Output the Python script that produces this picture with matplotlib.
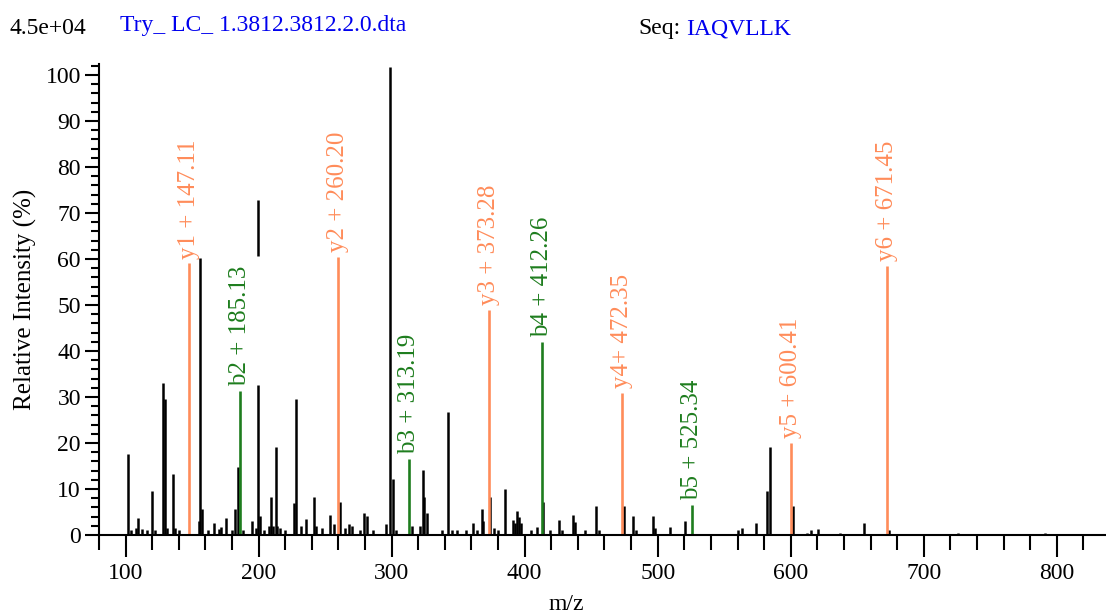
import matplotlib.pyplot as plt
from matplotlib.ticker import MultipleLocator

# unassigned peaks (m/z, relative intensity %)
peak_mz = [101.7, 104, 108, 109.6, 112, 116, 120.1, 122, 128.4, 129.9, 131, 135.7, 137,
           140, 156.2, 157.5, 155, 162, 166.7, 170, 171.8, 175.5, 180, 182.3, 184.3, 188,
           195, 198, 199.5, 200.7, 204, 208, 209.3, 210.5, 212.8, 214, 216, 220, 226.5, 228.1,
           232, 235.6, 241.8, 242.8, 248, 253.9, 257, 261.4, 265, 267.6, 270, 276, 279.4, 281.4,
           286, 295.7, 298.7, 300.7, 303, 315, 321, 323.3, 324.5, 326.3, 338, 342.1, 345,
           349, 356, 360.9, 364, 367.8, 369, 374.1, 377, 380, 385.1, 391.6, 393, 394.6, 396,
           397.5, 405, 409, 413.9, 419, 425.9, 428, 436.7, 438, 445, 453.7, 456, 474.3, 481.7,
           484, 496.8, 498, 509, 520.6, 560, 563, 574, 582.5, 584.4, 601.7, 612, 615, 620.8,
           637, 655, 673.9, 725.7, 790.8]
peak_int = [17.5, 1.0, 1.5, 3.8, 1.2, 1.0, 9.6, 1.0, 33.1, 29.5, 1.5, 13.2, 1.5,
            1.0, 60.2, 5.6, 3.0, 1.0, 2.7, 1.2, 1.7, 3.6, 1.0, 5.7, 14.7, 1.0,
            3.0, 1.5, 32.6, 4.2, 1.0, 2.0, 8.3, 2.0, 19.2, 2.0, 1.5, 1.0, 6.9, 29.5,
            2.0, 3.4, 8.3, 2.0, 1.5, 4.3, 2.4, 7.2, 1.5, 2.3, 2.0, 1.0, 4.7, 4.1,
            1.0, 2.4, 101.8, 12.1, 1.0, 2.0, 2.0, 14.1, 8.3, 4.7, 1.0, 26.7, 1.0,
            1.0, 1.0, 2.7, 1.0, 5.6, 3.0, 8.2, 1.5, 1.0, 10.1, 3.3, 2.5, 5.3, 4.0,
            2.5, 1.0, 1.8, 7.2, 1.0, 3.3, 1.0, 4.3, 2.8, 1.0, 6.2, 1.0, 6.2, 4.1,
            1.0, 4.1, 1.5, 1.8, 3.1, 1.0, 1.5, 2.5, 9.6, 19.2, 6.2, 0.5, 1.0, 1.2,
            0.5, 2.5, 1.0, 0.5, 0.5]

# detached fragment of a peak near 200
frag_mz = [199.3]
frag_lo = [60.6]
frag_hi = [72.8]

# annotated fragment ions
y_ions = ['y1 + 147.11', 'y2 + 260.20', 'y3 + 373.28', 'y4+ 472.35', 'y5 + 600.41', 'y6 + 671.45']
y_mz = [147.9, 259.9, 372.9, 472.8, 600.5, 672.1]
y_int = [59.1, 60.5, 48.9, 30.9, 20.1, 58.5]

b_ions = ['b2 + 185.13', 'b3 + 313.19', 'b4 + 412.26', 'b5 + 525.34']
b_mz = [185.8, 312.8, 412.7, 526.1]
b_int = [31.4, 16.6, 42.0, 6.5]

orange = '#FF8C5A'
green = '#1E7D1E'

plt.rcParams['font.family'] = ['Liberation Serif', 'DejaVu Serif']

fig = plt.figure(figsize=(11.06, 6.15), dpi=100)
ax = fig.add_axes([0.0895, 0.1301, 0.9105, 0.7666])

ax.vlines(peak_mz, 0, peak_int, color='black', linewidth=1.8)
ax.vlines(frag_mz, frag_lo, frag_hi, color='black', linewidth=1.8)
ax.vlines(y_mz, 0, y_int, color=orange, linewidth=1.9)
ax.vlines(b_mz, 0, b_int, color=green, linewidth=1.9)

for lab, mz, h in zip(y_ions, y_mz, y_int):
    ax.text(mz, h + 1.0, lab, rotation=90, ha='center', va='bottom',
            color=orange, fontsize=18, clip_on=False)
for lab, mz, h in zip(b_ions, b_mz, b_int):
    ax.text(mz, h + 1.0, lab, rotation=90, ha='center', va='bottom',
            color=green, fontsize=18, clip_on=False)

ax.set_xlim(80, 837)
ax.set_ylim(0, 102.5)

ax.spines['top'].set_visible(False)
ax.spines['right'].set_visible(False)
ax.spines['left'].set_linewidth(1.5)
ax.spines['bottom'].set_linewidth(1.5)

ax.xaxis.set_major_locator(MultipleLocator(100))
ax.xaxis.set_minor_locator(MultipleLocator(20))
ax.yaxis.set_major_locator(MultipleLocator(10))
ax.yaxis.set_minor_locator(MultipleLocator(2))
ax.tick_params(axis='x', which='major', length=16, width=1.5, labelsize=17, pad=4)
ax.tick_params(axis='x', which='minor', length=11, width=1.5)
ax.tick_params(axis='y', which='major', length=10, width=1.5, labelsize=17, pad=3)
ax.tick_params(axis='y', which='minor', length=6, width=1.5)

ax.set_xlabel('m/z', fontsize=17)
ax.xaxis.set_label_coords(0.464, -0.125)
ax.set_ylabel('Relative Intensity (%)', fontsize=18)
ax.yaxis.set_label_coords(-0.062, 0.5)

fig.text(0.009, 0.953, '4.5e+04', fontsize=17, va='center', color='black')
fig.text(0.1085, 0.958, 'Try_ LC_ 1.3812.3812.2.0.dta', fontsize=17, va='center', color='#0000EE')
fig.text(0.577, 0.953, 'Seq:', fontsize=17, va='center', color='black')
fig.text(0.620, 0.953, 'IAQVLLK', fontsize=17, va='center', color='#0000EE')

fig.savefig('out.png', dpi=100)
